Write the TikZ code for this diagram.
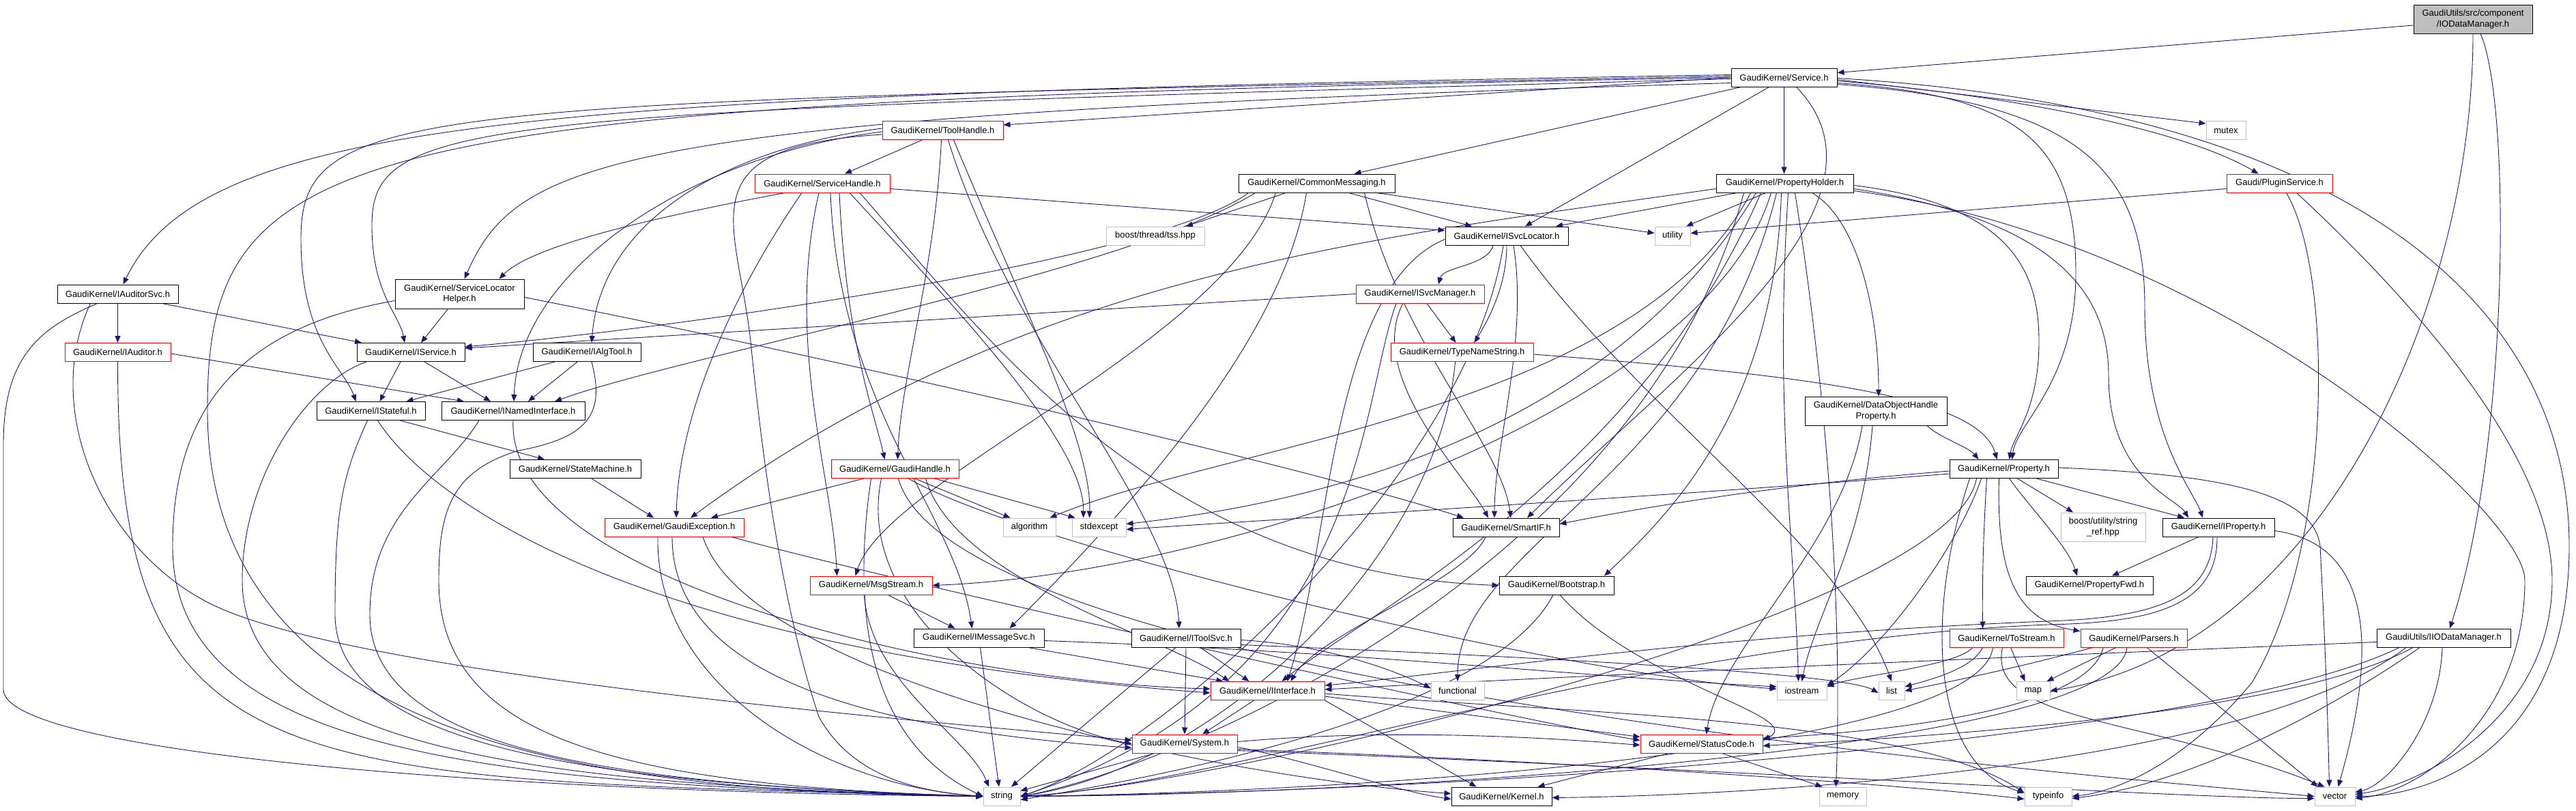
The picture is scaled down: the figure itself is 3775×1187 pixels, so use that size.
\documentclass[tikz,border=0pt]{standalone}
\usepackage{fontspec}
\setmainfont{Liberation Sans}
\usetikzlibrary{arrows.meta}
\definecolor{edgec}{HTML}{191970}
\definecolor{grayb}{HTML}{BFBFBF}
\pgfdeclarelayer{bg}
\pgfsetlayers{bg,main}
\begin{document}
\begin{tikzpicture}[x=1pt,y=1pt,
 box/.style={font=\fontsize{13}{15.5}\selectfont, inner sep=0pt, minimum height=27pt, line width=1pt, fill=white},
 nb/.style={box,draw=black},
 nr/.style={box,draw=red},
 ng/.style={box,draw=grayb},
 e/.style={draw=edgec, line width=0.9pt, -{Triangle[length=10pt,width=8pt]}}]
\useasboundingbox (0,0) rectangle (3775,-1187);
% nodes
\node[nb,fill=grayb,minimum width=174pt,minimum height=42pt,align=center] (iod) at (3624,-28) {GaudiUtils/src/component\\/IODataManager.h};
\node[nb,minimum width=155pt] (svc) at (2614.5,-113.5) {GaudiKernel/Service.h};
\node[ng,minimum width=58pt] (mutex) at (3262,-191) {mutex};
\node[nr,minimum width=155pt] (plugin) at (3340.5,-268.5) {Gaudi/PluginService.h};
\node[nr,minimum width=177pt] (toolh) at (1381.5,-191) {GaudiKernel/ToolHandle.h};
\node[nr,minimum width=198pt] (svch) at (1205,-268.5) {GaudiKernel/ServiceHandle.h};
\node[nb,minimum width=229pt] (commsg) at (1929.5,-268.5) {GaudiKernel/CommonMessaging.h};
\node[nb,minimum width=201pt] (propholder) at (2615.5,-268.5) {GaudiKernel/PropertyHolder.h};
\node[nb,minimum width=180pt] (isvcloc) at (2208,-345.5) {GaudiKernel/ISvcLocator.h};
\node[ng,minimum width=52pt] (utility) at (2451,-345.5) {utility};
\node[ng,minimum width=144pt] (tss) at (1693,-345.5) {boost/thread/tss.hpp};
\node[nb,minimum width=177pt] (iauditorsvc) at (172.5,-430.5) {GaudiKernel/IAuditorSvc.h};
\node[nb,minimum width=189pt,minimum height=43pt,align=center] (slh) at (673.5,-430.5) {GaudiKernel/ServiceLocator\\Helper.h};
\node[nr,minimum width=188pt] (isvcmgr) at (2081,-430.5) {GaudiKernel/ISvcManager.h};
\node[nr,minimum width=155pt] (iauditor) at (172.5,-516) {GaudiKernel/IAuditor.h};
\node[nb,minimum width=158pt] (iservice) at (602,-516) {GaudiKernel/IService.h};
\node[nb,minimum width=158pt] (ialgtool) at (860,-516) {GaudiKernel/IAlgTool.h};
\node[nr,minimum width=209pt] (typename) at (2142.5,-516) {GaudiKernel/TypeNameString.h};
\node[nb,minimum width=159pt] (istateful) at (543.5,-602) {GaudiKernel/IStateful.h};
\node[nb,minimum width=210pt] (inamed) at (752,-602) {GaudiKernel/INamedInterface.h};
\node[nb,minimum width=208pt,minimum height=42pt,align=center] (dohp) at (2749,-602) {GaudiKernel/DataObjectHandle\\Property.h};
\node[nb,minimum width=192pt] (statemachine) at (843,-687) {GaudiKernel/StateMachine.h};
\node[nr,minimum width=187pt] (gaudihandle) at (1311.5,-687) {GaudiKernel/GaudiHandle.h};
\node[nb,minimum width=159pt] (property) at (2936.5,-687) {GaudiKernel/Property.h};
\node[nr,minimum width=204pt] (gaudiexc) at (988,-772.5) {GaudiKernel/GaudiException.h};
\node[ng,minimum width=77pt] (algorithm) at (1508.5,-772.5) {algorithm};
\node[ng,minimum width=79pt] (stdexcept) at (1610.5,-772.5) {stdexcept};
\node[nb,minimum width=156pt] (smartif) at (2207,-772.5) {GaudiKernel/SmartIF.h};
\node[ng,minimum width=124pt,minimum height=42pt,align=center] (strref) at (3082,-772) {boost/utility/string\\\_ref.hpp};
\node[nb,minimum width=164pt] (iproperty) at (3251,-772.5) {GaudiKernel/IProperty.h};
\node[nr,minimum width=179pt] (msgstream) at (1276.5,-857.5) {GaudiKernel/MsgStream.h};
\node[nb,minimum width=168pt] (bootstrap) at (2281,-857.5) {GaudiKernel/Bootstrap.h};
\node[nb,minimum width=186pt] (propfwd) at (3062,-857.5) {GaudiKernel/PropertyFwd.h};
\node[nb,minimum width=191pt] (imsgsvc) at (1434.5,-934.5) {GaudiKernel/IMessageSvc.h};
\node[nb,minimum width=160pt] (itoolsvc) at (1738,-934.5) {GaudiKernel/IToolSvc.h};
\node[nr,minimum width=167pt] (tostream) at (2940.5,-934.5) {GaudiKernel/ToStream.h};
\node[nr,minimum width=156pt] (parsers) at (3127,-934.5) {GaudiKernel/Parsers.h};
\node[nb,minimum width=196pt] (iiod) at (3581,-934.5) {GaudiUtils/IIODataManager.h};
\node[nr,minimum width=167pt] (iinterface) at (1857.5,-1012) {GaudiKernel/IInterface.h};
\node[ng,minimum width=78pt] (functional) at (2136,-1012) {functional};
\node[ng,minimum width=73pt] (iostream) at (2640.5,-1012) {iostream};
\node[ng,minimum width=38pt] (list) at (2772,-1012) {list};
\node[ng,minimum width=49pt] (map) at (2979.5,-1012) {map};
\node[nr,minimum width=154pt] (system) at (1736,-1089.5) {GaudiKernel/System.h};
\node[nr,minimum width=179pt] (statuscode) at (2493.5,-1089.5) {GaudiKernel/StatusCode.h};
\node[ng,minimum width=54pt] (string) at (1468,-1166.5) {string};
\node[nb,minimum width=147pt] (kernel) at (2200.5,-1166.5) {GaudiKernel/Kernel.h};
\node[ng,minimum width=69pt] (memory) at (2700.5,-1166.5) {memory};
\node[ng,minimum width=69pt] (typeinfo) at (3001.5,-1166.5) {typeinfo};
\node[ng,minimum width=59pt] (vector) at (3421.5,-1166.5) {vector};

\begin{pgfonlayer}{bg}
\fill[white] (0,0) rectangle (3775,-1187);
% IODataManager
\draw[e] ([yshift=-9pt]iod.west) -- ([yshift=7pt]svc.east);
\draw[e] ([xshift=11pt]iod.south) .. controls (3680,-150) and (3678,-650) .. ([xshift=9pt]iiod.north);
\draw[e] (iod.south) .. controls (3624,-450) and (3400,-950) .. (map.east);
% Service
\draw[e] (svc.west) -- ([yshift=8pt]toolh.east);
\draw[e] ([xshift=-63pt]svc.south) -- ([xshift=55pt]commsg.north);
\draw[e] (svc.south) -- (svc.south |- propholder.north);
\draw[e] ([xshift=-22pt]svc.south) -- ([xshift=27pt]isvcloc.north);
\draw[e] ([yshift=-3pt]svc.east) -- ([yshift=10pt]mutex.west);
\draw[e] ([yshift=-5pt]svc.east) .. controls (2950,-140) and (3200,-190) .. ([xshift=-31pt]plugin.north);
\draw[e] ([yshift=-1pt]svc.east) .. controls (3450,-160) and (3765,-450) .. (3765,-800) .. controls (3765,-1100) and (3560,-1166) .. (vector.east);
\draw[e] ([yshift=4pt]svc.west) .. controls (800,-140) and (300,-170) .. ([xshift=8pt]iauditorsvc.north);
\draw[e] ([yshift=-8pt]svc.west) .. controls (900,-170) and (760,-230) .. ([xshift=7pt]slh.north);
\draw[e] ([yshift=-2pt]svc.west) .. controls (700,-165) and (545,-170) .. (545,-330) .. controls (545,-430) and (585,-460) .. ([xshift=-9pt]iservice.north);
\draw[e] ([yshift=2pt]svc.west) .. controls (600,-150) and (441,-150) .. (441,-350) .. controls (441,-500) and (505,-540) .. ([xshift=-22pt]istateful.north);
\draw[e] ([xshift=18pt]svc.south) .. controls (2800,-300) and (2450,-550) .. ([xshift=31pt]smartif.north);
\draw[e] ([yshift=-8pt]svc.east) .. controls (2950,-140) and (3042,-200) .. (3042,-400) .. controls (3042,-560) and (2955,-620) .. ([xshift=12pt]property.north);
\draw[e] ([yshift=-10pt]svc.east) .. controls (3050,-150) and (3143,-250) .. (3143,-450) .. controls (3143,-640) and (3215,-720) .. ([xshift=-23pt]iproperty.north);
\draw[e] (svc.west) .. controls (500,-150) and (304,-200) .. (304,-600) .. controls (304,-1100) and (900,-1160) .. (string.west);
% ToolHandle
\draw[e] ([xshift=-30pt]toolh.south) -- ([xshift=33pt]svch.north);
\draw[e] ([xshift=-2pt]toolh.south) .. controls (1370,-400) and (1320,-550) .. ([xshift=4pt]gaudihandle.north);
\draw[e] ([xshift=8pt]toolh.south) .. controls (1480,-500) and (1720,-750) .. ([xshift=-10pt]itoolsvc.north);
\draw[e] ([xshift=16pt]toolh.south) .. controls (1500,-450) and (1600,-650) .. ([xshift=-14pt]stdexcept.north);
\draw[e] ([yshift=3pt]toolh.west) .. controls (1050,-220) and (880,-330) .. ([xshift=7pt]ialgtool.north);
\draw[e] ([yshift=-2pt]toolh.west) .. controls (1000,-230) and (760,-400) .. ([xshift=1pt]inamed.north);
\draw[e] ([yshift=-6pt]toolh.west) .. controls (1000,-215) and (1080,-320) .. (1100,-500) .. controls (1120,-700) and (1150,-900) .. (1200,-1050) .. controls (1250,-1140) and (1350,-1160) .. (string.west);
% ServiceHandle
\draw[e] ([xshift=25pt]svch.south) .. controls (1240,-500) and (1280,-600) .. ([xshift=-15pt]gaudihandle.north);
\draw[e] ([xshift=-55pt]svch.south) .. controls (950,-320) and (780,-360) .. ([xshift=58pt]slh.north);
\draw[e] ([yshift=-8pt]svch.east) -- ([yshift=8pt]isvcloc.west);
\draw[e] ([xshift=-30pt]svch.south) .. controls (1080,-420) and (995,-600) .. ([xshift=3pt]gaudiexc.north);
\draw[e] ([xshift=-5pt]svch.south) .. controls (1150,-500) and (1220,-700) .. ([xshift=-50pt]msgstream.north);
\draw[e] ([xshift=12pt]svch.south) .. controls (1230,-600) and (1400,-750) .. ([xshift=-10pt]imsgsvc.north);
\draw[e] ([xshift=40pt]svch.south) .. controls (1400,-450) and (1590,-650) .. ([xshift=-23pt]stdexcept.north);
\draw[e] ([xshift=55pt]svch.south) .. controls (1450,-500) and (1700,-840) .. (bootstrap.west);
% CommonMessaging
\draw[e] ([xshift=-100pt]commsg.south) .. controls (1700,-380) and (1000,-480) .. ([yshift=8pt]iservice.east);
\draw[e] ([xshift=-90pt]commsg.south) .. controls (1650,-400) and (1000,-520) .. ([xshift=61pt]inamed.north);
\draw[e] ([xshift=47pt]commsg.south) -- ([xshift=-51pt]isvcloc.north);
\draw[e] ([xshift=-15pt]commsg.south) .. controls (1880,-500) and (1650,-750) .. ([xshift=45pt]imsgsvc.north);
\draw[e] ([xshift=-60pt]commsg.south) .. controls (1800,-500) and (1300,-700) .. ([xshift=-23pt]msgstream.north);
\draw[e] ([xshift=70pt]commsg.south) .. controls (2050,-500) and (2200,-650) .. ([xshift=7pt]smartif.north);
\draw[e] ([xshift=-45pt]commsg.south) -- ([xshift=45pt]tss.north);
\draw[e] ([xshift=88pt]commsg.south) -- ([yshift=4pt]utility.west);
% PropertyHolder
\draw[e] ([xshift=-28pt]propholder.south) -- ([xshift=20pt]utility.north);
\draw[e] ([xshift=-70pt]propholder.south) -- ([xshift=72pt]isvcloc.north);
\draw[e] ([xshift=40pt]propholder.south) .. controls (2720,-320) and (2753,-450) .. ([xshift=4pt]dohp.north);
\draw[e] ([yshift=-3pt]propholder.east) .. controls (2950,-300) and (2988,-400) .. (2988,-500) .. controls (2988,-600) and (2950,-640) .. ([xshift=8pt]property.north);
\draw[e] ([yshift=-8pt]propholder.east) .. controls (3000,-320) and (3090,-420) .. (3090,-550) .. controls (3090,-700) and (3190,-730) .. ([xshift=-44pt]iproperty.north);
\draw[e] ([yshift=-8pt]propholder.west) .. controls (2000,-350) and (1500,-400) .. ([xshift=24pt]gaudiexc.north);
\draw[e] ([xshift=-20pt]propholder.south) .. controls (2500,-600) and (1800,-840) .. (msgstream.east);
\draw[e] ([xshift=-5pt]propholder.south) .. controls (2600,-600) and (2450,-750) .. ([xshift=70pt]bootstrap.north);
\draw[e] ([xshift=-35pt]propholder.south) .. controls (2400,-700) and (2000,-900) .. ([xshift=21pt]iinterface.north);
\draw[e] ([xshift=-50pt]propholder.south) .. controls (2400,-600) and (1800,-650) .. ([xshift=30pt]algorithm.north);
\draw[e] ([xshift=-42pt]propholder.south) .. controls (2350,-650) and (1900,-740) .. ([yshift=5pt]stdexcept.east);
\draw[e] ([xshift=-12pt]propholder.south) .. controls (2500,-700) and (2136,-800) .. (functional.north);
\draw[e] ([xshift=5pt]propholder.south) .. controls (2600,-600) and (2630,-800) .. ([xshift=-5pt]iostream.north);
\draw[e] ([xshift=15pt]propholder.south) .. controls (2680,-600) and (2700,-900) .. ([xshift=-10pt]memory.north);
\draw[e] ([xshift=-60pt]propholder.south) .. controls (2400,-850) and (1700,-1130) .. (string.east);
\draw[e] ([yshift=-11pt]propholder.east) .. controls (3250,-350) and (3700,-750) .. (3700,-850) .. controls (3700,-1050) and (3550,-1160) .. ([yshift=-3pt]vector.east);
% ISvcLocator
\draw[e] ([xshift=-20pt]isvcloc.south) .. controls (2180,-390) and (2115,-390) .. ([xshift=27pt]isvcmgr.north);
\draw[e] (isvcloc.south) .. controls (2208,-420) and (2180,-470) .. ([xshift=18pt]typename.north);
\draw[e] ([xshift=10pt]isvcloc.south) .. controls (2240,-500) and (2190,-650) .. ([xshift=-17pt]smartif.north);
\draw[e] ([yshift=-5pt]isvcloc.west) .. controls (1950,-420) and (1950,-800) .. ([xshift=29pt]iinterface.north);
\draw[e] ([xshift=20pt]isvcloc.south) .. controls (2400,-600) and (2700,-800) .. (list.north);
\draw[e] ([xshift=-5pt]isvcloc.south) .. controls (2150,-700) and (1700,-1100) .. (string.east);
% ISvcManager
\draw[e] (isvcmgr.west) -- ([yshift=6pt]iservice.east);
\draw[e] ([xshift=10pt]isvcmgr.south) -- ([xshift=-9pt]typename.north);
\draw[e] ([xshift=-25pt]isvcmgr.south) .. controls (2000,-550) and (2150,-700) .. ([xshift=-26pt]smartif.north);
\draw[e] ([xshift=-35pt]isvcmgr.south) .. controls (1990,-600) and (2000,-1000) .. (string.east);
% TypeNameString
\draw[e] ([yshift=-3pt]typename.east) .. controls (2650,-550) and (2900,-580) .. ([xshift=-10pt]property.north);
\draw[e] ([xshift=-10pt]typename.south) .. controls (2110,-800) and (1800,-1120) .. (string.east);
% PluginService
\draw[e] ([yshift=-8pt]plugin.west) -- ([yshift=4pt]utility.east);
\draw[e] ([xshift=10pt]plugin.south) .. controls (3420,-400) and (3420,-800) .. (3300,-1000) .. controls (3200,-1120) and (3100,-1160) .. (typeinfo.east);
\draw[e] ([xshift=25pt]plugin.south) .. controls (3600,-500) and (3740,-700) .. (3740,-850) .. controls (3740,-1050) and (3550,-1150) .. ([yshift=3pt]vector.east);
% IAuditorSvc
\draw[e] ([xshift=65pt]iauditorsvc.south) -- ([xshift=-72pt]iservice.north);
\draw[e] (iauditorsvc.south) -- (iauditor.north);
\draw[e] ([xshift=-30pt]iauditorsvc.south) .. controls (60,-480) and (5,-520) .. (5,-650) -- (5,-1010) .. controls (5,-1100) and (700,-1160) .. (string.west);
\draw[e] ([xshift=-40pt]iauditorsvc.south) .. controls (60,-600) and (150,-800) .. (300,-880) .. controls (500,-990) and (1400,-1060) .. ([yshift=5pt]system.west);
% IAuditor
\draw[e] ([yshift=-2pt]iauditor.east) -- ([xshift=-72pt]inamed.north);
\draw[e] (iauditor.south) .. controls (172,-1150) and (400,-1140) .. (string.west);
% ServiceLocatorHelper
\draw[e] ([xshift=-17pt]slh.south) -- ([xshift=15pt]iservice.north);
\draw[e] ([yshift=-5pt]slh.east) .. controls (1200,-520) and (1900,-680) .. ([xshift=-62pt]smartif.north);
\draw[e] ([yshift=-10pt]slh.west) .. controls (350,-480) and (253,-600) .. (253,-800) .. controls (253,-1100) and (700,-1150) .. (string.west);
% IService
\draw[e] ([xshift=-15pt]iservice.south) -- ([xshift=13pt]istateful.north);
\draw[e] ([xshift=20pt]iservice.south) -- ([xshift=-33pt]inamed.north);
\draw[e] ([xshift=-65pt]iservice.south) .. controls (450,-560) and (355,-700) .. (355,-850) .. controls (355,-1100) and (800,-1150) .. (string.west);
% IAlgTool
\draw[e] ([xshift=-47pt]ialgtool.south) -- ([xshift=52pt]istateful.north);
\draw[e] ([xshift=-14pt]ialgtool.south) -- ([xshift=22pt]inamed.north);
\draw[e] ([xshift=7pt]ialgtool.south) .. controls (885,-600) and (870,-640) .. (760,-660) .. controls (660,-690) and (643,-750) .. (643,-850) .. controls (643,-1080) and (900,-1150) .. (string.west);
% IStateful
\draw[e] ([xshift=43pt]istateful.south) -- ([xshift=-45pt]statemachine.north);
\draw[e] ([xshift=10pt]istateful.south) .. controls (620,-720) and (900,-950) .. ([yshift=-3pt]iinterface.west);
\draw[e] ([xshift=-5pt]istateful.south) .. controls (500,-700) and (491,-750) .. (491,-900) .. controls (491,-1100) and (900,-1150) .. (string.west);
% INamedInterface
\draw[e] (inamed.south) .. controls (740,-850) and (1400,-1000) .. ([yshift=3pt]iinterface.west);
\draw[e] ([xshift=-50pt]inamed.south) .. controls (650,-700) and (542,-750) .. (542,-900) .. controls (542,-1100) and (900,-1150) .. (string.west);
% StateMachine
\draw[e] ([xshift=24pt]statemachine.south) -- ([xshift=-30pt]gaudiexc.north);
% GaudiException
\draw[e] ([xshift=-3pt]gaudiexc.south) .. controls (985,-1000) and (1300,-1070) .. ([yshift=-6pt]system.west);
\draw[e] ([xshift=-24pt]gaudiexc.south) .. controls (960,-1000) and (1200,-1150) .. (string.west);
\draw[e] ([xshift=84pt]gaudiexc.south) .. controls (1300,-850) and (2200,-1050) .. ([yshift=5pt]statuscode.west);
\draw[e] ([xshift=42pt]gaudiexc.south) .. controls (1100,-1000) and (1800,-1140) .. ([yshift=4pt]kernel.west);
% GaudiHandle
\draw[e] ([xshift=-46pt]gaudihandle.south) -- ([xshift=54pt]gaudiexc.north);
\draw[e] ([xshift=45pt]gaudihandle.south) .. controls (1400,-850) and (1700,-930) .. ([xshift=-56pt]iinterface.north);
\draw[e] ([xshift=-20pt]gaudihandle.south) .. controls (1250,-900) and (1500,-1060) .. (system.west);
\draw[e] ([xshift=29pt]gaudihandle.south) -- ([xshift=-28pt]algorithm.north);
\draw[e] ([xshift=58pt]gaudihandle.south) -- ([xshift=-35pt]stdexcept.north);
\draw[e] ([xshift=-35pt]gaudihandle.south) .. controls (1240,-950) and (1300,-1100) .. (string.west);
\draw[e] ([xshift=5pt]gaudihandle.south) .. controls (1400,-1000) and (3000,-1130) .. (vector.west);
\draw[e] ([xshift=20pt]gaudihandle.south) .. controls (1500,-800) and (2300,-990) .. ([yshift=3pt]iostream.west);
% MsgStream
\draw[e] ([xshift=25pt]msgstream.south) -- ([xshift=-35pt]imsgsvc.north);
\draw[e] ([xshift=-10pt]msgstream.south) .. controls (1275,-1000) and (1420,-1080) .. ([xshift=-19pt]string.north);
% IMessageSvc
\draw[e] ([xshift=72pt]imsgsvc.south) -- ([xshift=-65pt]iinterface.north);
\draw[e] ([xshift=2pt]imsgsvc.south) -- ([xshift=-4pt]string.north);
\draw[e] ([yshift=-4pt]imsgsvc.east) .. controls (2000,-955) and (2300,-990) .. ([yshift=6pt]iostream.west);
% IToolSvc
\draw[e] ([xshift=21pt]itoolsvc.south) -- ([xshift=-27pt]iinterface.north);
\draw[e] (itoolsvc.south) -- (system.north);
\draw[e] ([xshift=-15pt]itoolsvc.south) -- ([xshift=14pt]string.north);
\draw[e] ([yshift=-3pt]itoolsvc.east) .. controls (1950,-945) and (2050,-985) .. ([yshift=4pt]functional.west);
\draw[e] ([yshift=-10pt]itoolsvc.east) .. controls (2200,-960) and (2700,-985) .. ([yshift=-3pt]list.west);
% IInterface
\draw[e] ([xshift=-20pt]iinterface.south) -- ([xshift=26pt]system.north);
\draw[e] (iinterface.south east) -- ([xshift=-37pt]kernel.north);
\draw[e] ([yshift=-8pt]iinterface.east) -- ([yshift=10pt]statuscode.west);
\draw[e] ([yshift=-4pt]iinterface.east) .. controls (2300,-1045) and (2800,-1050) .. ([yshift=5pt]typeinfo.west);
% System
\draw[e] ([yshift=-5pt]system.east) .. controls (1900,-1110) and (2050,-1160) .. ([yshift=-4pt]kernel.west);
\draw[e] ([yshift=3pt]system.east) .. controls (2000,-1070) and (2200,-1075) .. ([yshift=-2pt]statuscode.west);
\draw[e] ([xshift=-44pt]system.south) -- ([yshift=8pt]string.east);
\draw[e] ([yshift=-8pt]system.east) .. controls (2300,-1115) and (2800,-1150) .. ([yshift=-4pt]typeinfo.west);
\draw[e] ([yshift=-10pt]system.east) .. controls (2500,-1125) and (3200,-1170) .. ([yshift=-3pt]vector.west);
% StatusCode
\draw[e] ([xshift=-48pt]statuscode.south) -- ([xshift=53pt]kernel.north);
\draw[e] ([xshift=30pt]statuscode.south) -- ([xshift=-30pt]memory.north);
% Bootstrap
\draw[e] ([xshift=-5pt]bootstrap.south) .. controls (2230,-960) and (2050,-1080) .. ([yshift=-5pt]string.east);
\draw[e] ([xshift=5pt]bootstrap.south) .. controls (2400,-1000) and (2650,-1050) .. ([yshift=5pt]statuscode.east);
% SmartIF
\draw[e] ([xshift=-30pt]smartif.south) .. controls (2150,-850) and (1930,-930) .. ([xshift=34pt]iinterface.north);
% DataObjectHandleProperty
\draw[e] ([xshift=75pt]dohp.south) .. controls (2840,-640) and (2885,-655) .. ([xshift=-37pt]property.north);
\draw[e] ([xshift=-20pt]dohp.south) .. controls (2700,-800) and (2520,-950) .. ([xshift=7pt]statuscode.north);
\draw[e] ([xshift=-5pt]dohp.south) .. controls (2730,-800) and (2660,-900) .. (iostream.north);
% Property
\draw[e] ([yshift=-3pt]property.west) .. controls (2600,-710) and (2400,-745) .. ([yshift=5pt]smartif.east);
\draw[e] ([yshift=-7pt]property.west) .. controls (2400,-730) and (1800,-765) .. ([yshift=-3pt]stdexcept.east);
\draw[e] ([xshift=20pt]property.south) -- ([xshift=-44pt]strref.north);
\draw[e] ([xshift=48pt]property.south) -- ([xshift=-50pt]iproperty.north);
\draw[e] ([xshift=8pt]property.south) .. controls (2980,-750) and (3030,-800) .. ([xshift=-18pt]propfwd.north);
\draw[e] ([xshift=-25pt]property.south) .. controls (2905,-800) and (2905,-880) .. ([xshift=-35pt]tostream.north);
\draw[e] ([xshift=-7pt]property.south) .. controls (2925,-850) and (2960,-910) .. ([yshift=10pt]parsers.west);
\draw[e] ([xshift=-40pt]property.south) .. controls (2860,-900) and (1800,-1150) .. (string.east);
\draw[e] ([xshift=-33pt]property.south) .. controls (2870,-800) and (2760,-950) .. ([yshift=8pt]iostream.east);
\draw[e] ([yshift=2pt]property.east) .. controls (3250,-695) and (3390,-720) .. (3400,-800) .. controls (3405,-900) and (3410,-1000) .. ([xshift=-8pt]vector.north);
\draw[e] ([xshift=-50pt]property.south) .. controls (2820,-900) and (2830,-1120) .. ([yshift=5pt]typeinfo.west);
% IProperty
\draw[e] ([xshift=-29pt]iproperty.south) -- ([xshift=33pt]propfwd.north);
\draw[e] ([xshift=-8pt]iproperty.south) .. controls (3240,-880) and (3150,-905) .. (3000,-910) .. controls (2500,-930) and (2100,-990) .. ([yshift=8pt]iinterface.east);
\draw[e] ([xshift=-2pt]iproperty.south) .. controls (3250,-890) and (3150,-912) .. (3000,-915) .. controls (2400,-940) and (1800,-1150) .. (string.east);
\draw[e] ([yshift=-5pt]iproperty.east) .. controls (3500,-800) and (3470,-1000) .. ([xshift=5pt]vector.north);
% ToStream
\draw[e] ([xshift=6pt]tostream.south) -- ([xshift=-12pt]map.north);
\draw[e] ([xshift=-50pt]tostream.south) .. controls (2870,-975) and (2720,-990) .. ([yshift=6pt]iostream.east);
\draw[e] ([xshift=-35pt]tostream.south) .. controls (2890,-980) and (2830,-995) .. ([yshift=6pt]list.east);
\draw[e] ([xshift=-20pt]tostream.south) .. controls (2900,-1100) and (2000,-1160) .. (string.east);
\draw[e] ([xshift=-6pt]tostream.south) .. controls (2910,-1060) and (3150,-1050) .. ([xshift=-15pt]vector.north);
% Parsers
\draw[e] ([xshift=-26pt]parsers.south) -- ([xshift=20pt]map.north);
\draw[e] ([xshift=-60pt]parsers.south) .. controls (2950,-980) and (2850,-1000) .. (list.east);
\draw[e] ([xshift=-10pt]parsers.south) .. controls (3100,-1100) and (2000,-1165) .. (string.east);
\draw[e] ([xshift=19pt]parsers.south) -- ([xshift=-25pt]vector.north);
\draw[e] ([xshift=-45pt]parsers.south) .. controls (3060,-1050) and (2700,-1075) .. ([yshift=8pt]statuscode.east);
% IIODataManager
\draw[e] ([yshift=-6pt]iiod.west) .. controls (3000,-960) and (2300,-990) .. ([yshift=2pt]iinterface.east);
\draw[e] ([xshift=-35pt]iiod.south) .. controls (3400,-1050) and (3200,-1150) .. ([yshift=-3pt]typeinfo.east);
\draw[e] ([xshift=-55pt]iiod.south) .. controls (3300,-1120) and (2600,-1165) .. ([yshift=-2pt]kernel.east);
\draw[e] ([xshift=-45pt]iiod.south) .. controls (3350,-1050) and (2800,-1080) .. ([yshift=-3pt]statuscode.east);
\draw[e] ([xshift=-65pt]iiod.south) .. controls (3250,-1080) and (2200,-1160) .. (string.east);
\draw[e] ([xshift=-2pt]iiod.south) .. controls (3575,-1060) and (3500,-1150) .. ([yshift=6pt]vector.east);
\end{pgfonlayer}
\end{tikzpicture}
\end{document}
